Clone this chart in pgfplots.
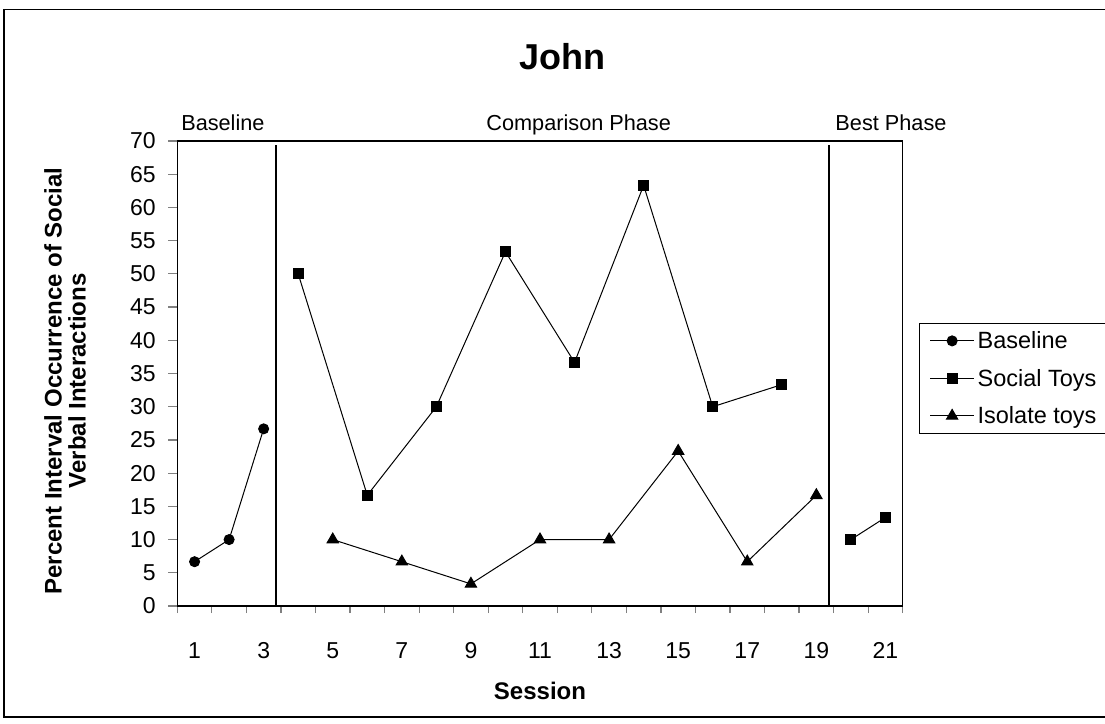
\documentclass[border=0pt]{standalone}
\usepackage{fontspec}
\setmainfont{Liberation Sans}
\usepackage{pgfplots}
\pgfplotsset{compat=1.18}
\begin{document}
\begin{tikzpicture}[x=1pt,y=1pt]
\useasboundingbox (0,0) rectangle (1105,-723);
\fill[white] (0,0) rectangle (1105,-723);
\draw[line width=1.3pt] (4,-9.5) rectangle (1130,-717);
\node[anchor=base, font=\fontsize{36}{40}\selectfont\bfseries] at (562,-69) {John};
\begin{axis}[
  at={(177.3pt,-606pt)}, anchor=south west,
  scale only axis, width=725.4pt, height=465pt,
  xmin=0.5, xmax=21.5, ymin=0, ymax=70,
  clip=false,
  axis line style={line width=1.4pt},
  tick align=outside,
  xtick pos=bottom, ytick pos=left,
  xtick={1,3,...,21},
  minor xtick={0.5,1.5,...,21.5},
  major x tick style={draw=none},
  minor x tick style={line width=1.2pt},
  minor tick length=7pt,
  ytick={0,5,...,70},
  major y tick style={line width=1.2pt},
  major tick length=9pt,
  /pgf/number format/assume math mode=true,
  tick label style={font=\fontsize{23}{26}\selectfont},
  xticklabel style={anchor=base, yshift=-43pt},
  yticklabel style={anchor=east, xshift=-9pt},
  xlabel={Session},
  xlabel style={at={(axis description cs:0.5,-0.2006)}, anchor=base, font=\fontsize{24}{26}\selectfont\bfseries},
  ylabel={Percent Interval Occurrence of Social\\Verbal Interactions},
  ylabel style={at={(axis description cs:-0.1548,0.484)}, anchor=center, align=center, font=\fontsize{24}{24}\selectfont\bfseries},
  legend style={at={(axis description cs:1.0225,0.6086)}, anchor=north west, draw=black, line width=1.2pt,
    font=\fontsize{23.5}{26}\selectfont, row sep=13pt, inner xsep=10pt, inner ysep=5pt,
    nodes={inner sep=3pt}},
  legend cell align=left,
  legend image code/.code={\draw[mark repeat=2,mark phase=2,#1] plot coordinates {(0pt,0pt) (22pt,0pt) (44pt,0pt)};},
  unbounded coords=jump,
]
\addplot[black, line width=1pt, mark=*, mark size=5pt, mark options={solid, fill=black}]
  coordinates {(1,6.67) (2,10) (3,26.67)};
\addlegendentry{Baseline}
\addplot[black, line width=1pt, mark=square*, mark size=5pt, mark options={solid, fill=black}]
  coordinates {(4,50) (6,16.67) (8,30) (10,53.33) (12,36.67) (14,63.33) (16,30) (18,33.33) (19,nan) (20,10) (21,13.33)};
\addlegendentry{Social Toys}
\addplot[black, line width=1pt, mark=triangle*, mark size=6.5pt, mark options={solid, fill=black}]
  coordinates {(5,10) (7,6.67) (9,3.33) (11,10) (13,10) (15,23.33) (17,6.67) (19,16.67)};
\addlegendentry{Isolate toys}
\addplot[forget plot, black, line width=1.8pt] coordinates {(3.35,0) (3.35,69.4)};
\addplot[forget plot, black, line width=1.8pt] coordinates {(19.37,0) (19.37,69.4)};
\node[anchor=base, font=\fontsize{21.7}{24}\selectfont] at (axis cs:1.82,71.65) {Baseline};
\node[anchor=base, font=\fontsize{21.7}{24}\selectfont] at (axis cs:12.12,71.65) {Comparison Phase};
\node[anchor=base, font=\fontsize{21.7}{24}\selectfont] at (axis cs:21.16,71.65) {Best Phase};
\end{axis}
\end{tikzpicture}
\end{document}
